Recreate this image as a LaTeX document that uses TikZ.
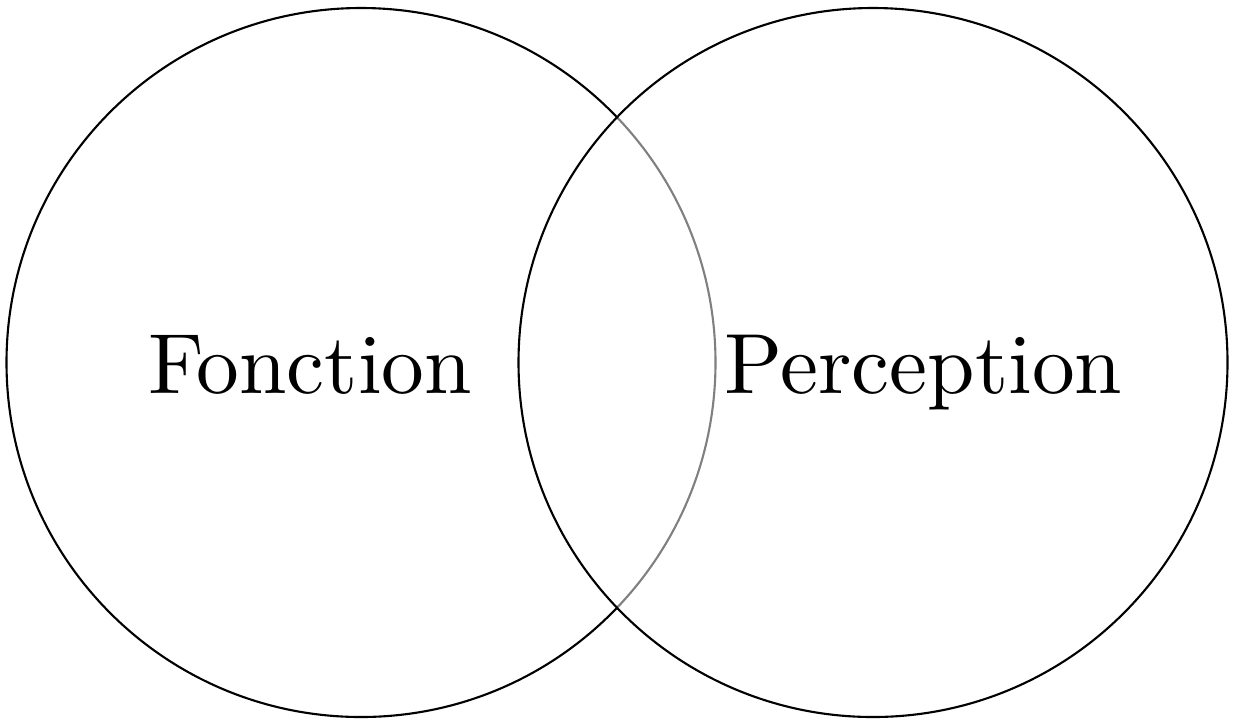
\documentclass[tikz,border=0pt]{standalone}
\usepackage{tikz}
\usetikzlibrary{positioning}

\begin{document}
\begin{tikzpicture}[thick,line width=0.6pt]

\tikzstyle{ensemble}=[circle,draw=black,minimum size=7.09cm,inner sep=0pt]
\tikzstyle{etiquette}=[anchor=base,scale=2.43,font=\fontsize{10}{12}\selectfont]

\useasboundingbox (0,0) rectangle (12.36,7.26);

%ensembles
\node [ensemble] (fonction) at (3.61,3.635) {};
\node [ensemble,fill=white,fill opacity=0.5,draw opacity=1] (perception) at (8.73,3.635) {};

%noms
\node [etiquette] (tfonction) at (3.10,3.33) {Fonction};
\node [etiquette] (tperception) at (9.235,3.33) {Perception};

\end{tikzpicture}
\end{document}
